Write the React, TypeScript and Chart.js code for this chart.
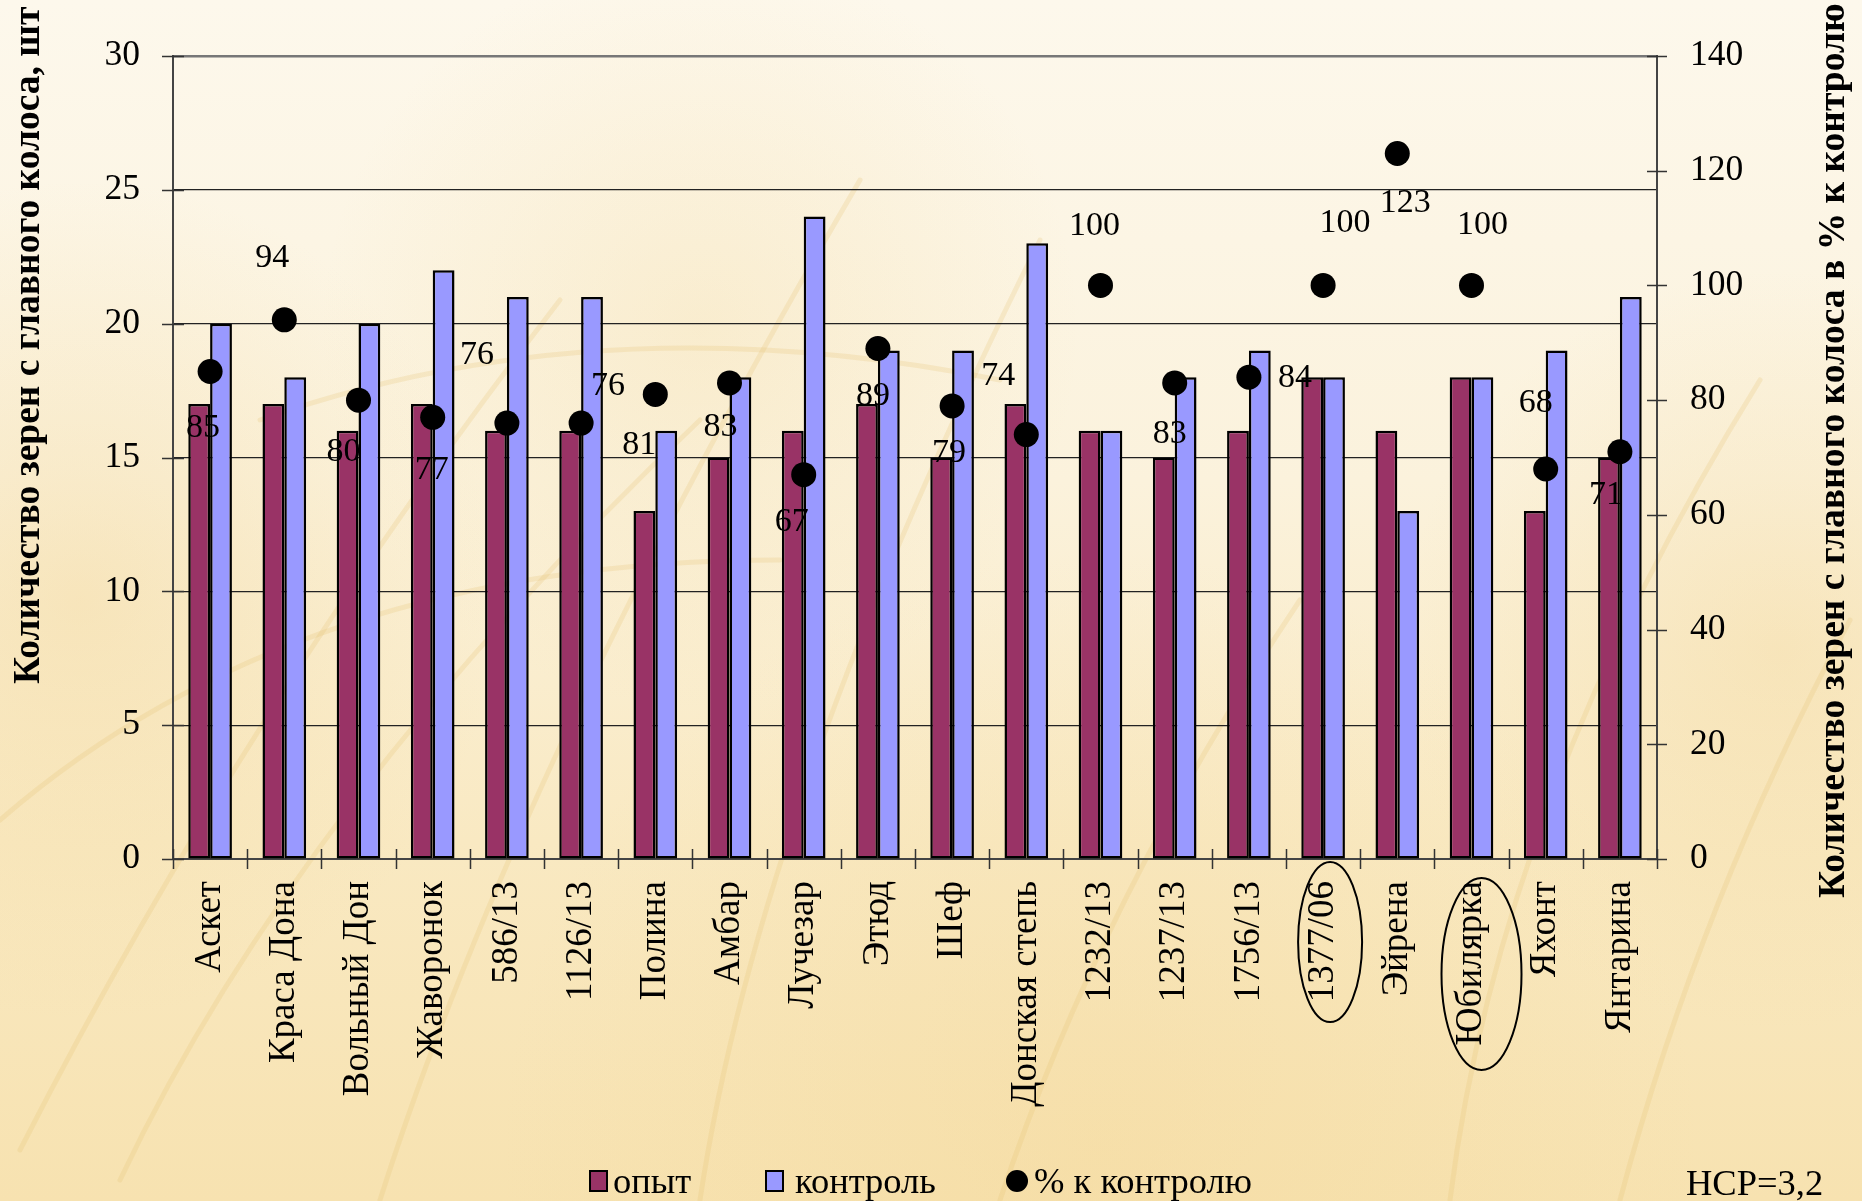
import React, { useEffect, useRef } from "react";
import { Chart, registerables } from "chart.js";

Chart.register(...registerables);

// ---- data ----
const categories = [
  "Аскет", "Краса Дона", "Вольный Дон", "Жаворонок", "586/13", "1126/13",
  "Полина", "Амбар", "Лучезар", "Этюд", "Шеф", "Донская степь", "1232/13",
  "1237/13", "1756/13", "1377/06", "Эйрена", "Юбилярка", "Яхонт", "Янтарина",
];
const experiment = [17, 17, 16, 17, 16, 16, 13, 15, 16, 17, 15, 17, 16, 15, 16, 18, 16, 18, 13, 15];
const control = [20, 18, 20, 22, 21, 21, 16, 18, 24, 19, 19, 23, 16, 18, 19, 18, 13, 18, 19, 21];
const percentOfControl = [85, 94, 80, 77, 76, 76, 81, 83, 67, 89, 79, 74, 100, 83, 84, 100, 123, 100, 68, 71];
const seriesNames = ["опыт", "контроль", "% к контролю"];
const circledCategories = ["1377/06", "Юбилярка"];
const leftAxisTitle = "Количество зерен с главного колоса, шт";
const rightAxisTitle = "Количество зерен с главного колоса в % к контролю";
const lsdNote = "НСР=3,2";

// ---- styling ----
const SERIF = "'Liberation Serif', 'Times New Roman', serif";
const TICK_SIZE = 35.5;
const LEGEND_SIZE = 36.5;
const W = 1862;
const H = 1201;
const PLOT = { left: 173, right: 1657, top: 56, bottom: 859 };

// where each percentage label sits relative to its dot (px)
const pctLabelOffsets: [number, number][] = [
  [-7, 57], [-12, -62], [-15, 52], [-1, 53], [-30, -68], [27, -37], [-16, 51],
  [-9, 44], [-12, 47], [-5, 48], [-3, 47], [-28, -58], [-6, -59], [-5, 51],
  [46, 1], [22, -62], [8, 50], [11, -60], [-10, -66], [-14, 43],
];

// ellipses drawn around selected category labels: dx from tick, cy below axis, radii
const ellipseStyles = [
  { dx: 7, dy: 83, rx: 32, ry: 80 },
  { dx: 10, dy: 115, rx: 40, ry: 96 },
];

// faint wheat stalks in the backdrop: [x0, y0, cx, cy, x1, y1]
const stalks: number[][] = [
  [20, 1150, 250, 700, 560, 300],
  [120, 1180, 300, 800, 700, 420],
  [380, 1200, 520, 760, 860, 180],
  [700, 1200, 760, 800, 1040, 240],
  [1450, 1200, 1500, 800, 1760, 380],
  [1620, 1200, 1700, 900, 1850, 620],
  [0, 820, 300, 560, 780, 560],
  [260, 420, 600, 300, 1000, 380],
  [1000, 1200, 1100, 900, 1300, 600],
];

const backgroundPlugin = {
  id: "wheatBackground",
  beforeDraw(chart: any) {
    const { ctx } = chart;
    ctx.save();
    const g = ctx.createLinearGradient(0, 0, 0, H);
    g.addColorStop(0, "#fdf8ec");
    g.addColorStop(0.4, "#fbf2dc");
    g.addColorStop(0.7, "#f9e9c2");
    g.addColorStop(1, "#f7e2b0");
    ctx.fillStyle = g;
    ctx.fillRect(0, 0, W, H);
    const blobs = [
      { x: 80, y: 600, r: 420, c: "rgba(240,205,130,0.30)" },
      { x: 700, y: 330, r: 380, c: "rgba(240,210,140,0.22)" },
      { x: 1780, y: 650, r: 380, c: "rgba(240,205,130,0.28)" },
      { x: 1100, y: 1150, r: 600, c: "rgba(242,210,140,0.25)" },
    ];
    for (const b of blobs) {
      const rg = ctx.createRadialGradient(b.x, b.y, 0, b.x, b.y, b.r);
      rg.addColorStop(0, b.c);
      rg.addColorStop(1, "rgba(240,210,140,0)");
      ctx.fillStyle = rg;
      ctx.fillRect(0, 0, W, H);
    }
    ctx.strokeStyle = "rgba(228,190,110,0.22)";
    ctx.lineWidth = 5;
    ctx.lineCap = "round";
    for (const s of stalks) {
      ctx.beginPath();
      ctx.moveTo(s[0], s[1]);
      ctx.quadraticCurveTo(s[2], s[3], s[4], s[5]);
      ctx.stroke();
    }
    ctx.restore();
  },
};

const decorPlugin = {
  id: "chartDecor",
  afterDraw(chart: any) {
    const { ctx, scales } = chart;
    const x = scales.x;
    const y = scales.y;
    const y1 = scales.y1;
    const area = chart.chartArea;
    ctx.save();

    // tick marks crossing the axes
    ctx.strokeStyle = "#333";
    ctx.lineWidth = 1.5;
    ctx.beginPath();
    y.ticks.forEach((t: any) => {
      const py = Math.round(y.getPixelForValue(t.value)) + 0.5;
      ctx.moveTo(area.left - 11, py);
      ctx.lineTo(area.left + 11, py);
    });
    y1.ticks.forEach((t: any) => {
      const py = Math.round(y1.getPixelForValue(t.value)) + 0.5;
      ctx.moveTo(area.right - 10, py);
      ctx.lineTo(area.right + 10, py);
    });
    const step = x.getPixelForValue(1) - x.getPixelForValue(0);
    for (let i = 0; i <= categories.length; i++) {
      const px = Math.round(x.getPixelForValue(0) - step / 2 + i * step) + 0.5;
      ctx.moveTo(px, area.bottom - 10);
      ctx.lineTo(px, area.bottom + 10);
    }
    ctx.stroke();

    // percentage labels
    const meta = chart.getDatasetMeta(2);
    ctx.fillStyle = "#000";
    ctx.font = `34px ${SERIF}`;
    ctx.textAlign = "center";
    ctx.textBaseline = "middle";
    meta.data.forEach((pt: any, i: number) => {
      const [dx, dy] = pctLabelOffsets[i];
      ctx.fillText(String(percentOfControl[i]), pt.x + dx, pt.y + dy);
    });

    // ellipses around highlighted varieties
    ctx.strokeStyle = "#000";
    ctx.lineWidth = 2;
    circledCategories.forEach((name, k) => {
      const idx = categories.indexOf(name);
      const s = ellipseStyles[k];
      const cx = x.getPixelForValue(idx) + s.dx;
      ctx.beginPath();
      ctx.ellipse(cx, area.bottom + s.dy, s.rx, s.ry, 0, 0, Math.PI * 2);
      ctx.stroke();
    });

    // axis titles
    ctx.font = `bold 37.5px ${SERIF}`;
    ctx.textAlign = "left";
    ctx.textBaseline = "middle";
    ctx.save();
    ctx.translate(29, 684);
    ctx.rotate(-Math.PI / 2);
    ctx.fillText(leftAxisTitle, 0, 0);
    ctx.restore();
    ctx.save();
    ctx.translate(1834, 898);
    ctx.rotate(-Math.PI / 2);
    ctx.fillText(rightAxisTitle, 0, 0);
    ctx.restore();

    // legend
    const legendY = 1181;
    const keyX = [590, 766, 1017];
    const textX = [613, 795, 1034];
    ctx.font = `${LEGEND_SIZE}px ${SERIF}`;
    ctx.textBaseline = "alphabetic";
    chart.data.datasets.forEach((ds: any, i: number) => {
      if (ds.type === "line") {
        ctx.fillStyle = "#000";
        ctx.beginPath();
        ctx.arc(keyX[i], legendY, 11, 0, Math.PI * 2);
        ctx.fill();
      } else {
        ctx.fillStyle = ds.backgroundColor;
        ctx.fillRect(keyX[i], legendY - 10, 17, 20);
        ctx.strokeStyle = "#000";
        ctx.lineWidth = 2;
        ctx.strokeRect(keyX[i], legendY - 10, 17, 20);
      }
      ctx.fillStyle = "#000";
      ctx.fillText(ds.label, textX[i], 1193);
    });
    ctx.fillText(lsdNote, 1686, 1195);

    ctx.restore();
  },
};

export default function App() {
  const canvasRef = useRef<HTMLCanvasElement | null>(null);

  useEffect(() => {
    const canvas = canvasRef.current;
    if (!canvas) return;
    const chart = new Chart(canvas, {
      type: "bar",
      data: {
        labels: categories,
        datasets: [
          {
            type: "bar",
            label: seriesNames[0],
            data: experiment,
            backgroundColor: "#993366",
            borderColor: "#000",
            borderWidth: 2.5,
            borderSkipped: false,
            yAxisID: "y",
            order: 2,
          },
          {
            type: "bar",
            label: seriesNames[1],
            data: control,
            backgroundColor: "#9999ff",
            borderColor: "#000",
            borderWidth: 2.5,
            borderSkipped: false,
            yAxisID: "y",
            order: 2,
          },
          {
            type: "line",
            label: seriesNames[2],
            data: percentOfControl,
            showLine: false,
            pointRadius: 12.5,
            pointHoverRadius: 12.5,
            pointBackgroundColor: "#000",
            pointBorderColor: "#000",
            pointBorderWidth: 0,
            yAxisID: "y1",
            order: 1,
          },
        ] as any,
      },
      options: {
        responsive: false,
        animation: false,
        devicePixelRatio: 1,
        datasets: {
          bar: { categoryPercentage: 1 / 1.7, barPercentage: 1 },
        },
        layout: { padding: { top: PLOT.top, left: 0, right: 0, bottom: 0 } },
        plugins: {
          legend: { display: false },
          tooltip: { enabled: false },
          title: { display: false },
        },
        scales: {
          x: {
            offset: true,
            grid: { display: false, drawTicks: false },
            border: { display: true, color: "#444", width: 2 },
            ticks: {
              autoSkip: false,
              minRotation: 90,
              maxRotation: 90,
              padding: 22,
              color: "#000",
              font: { family: SERIF, size: 37 },
            },
            afterFit(scale: any) {
              scale.height = H - PLOT.bottom;
            },
          },
          y: {
            position: "left",
            min: 0,
            max: 30,
            ticks: {
              stepSize: 5,
              padding: 33,
              color: "#000",
              font: { family: SERIF, size: TICK_SIZE },
            },
            grid: {
              drawTicks: false,
              color: (c: any) => (c.tick && c.tick.value === 30 ? "#777" : "#222"),
              lineWidth: (c: any) => (c.tick && c.tick.value === 30 ? 2.5 : 1.2),
            },
            border: { display: true, color: "#444", width: 2 },
            afterFit(scale: any) {
              scale.width = PLOT.left;
            },
          },
          y1: {
            position: "right",
            min: 0,
            max: 140,
            ticks: {
              stepSize: 20,
              padding: 33,
              color: "#000",
              font: { family: SERIF, size: TICK_SIZE },
            },
            grid: { drawOnChartArea: false, drawTicks: false },
            border: { display: true, color: "#444", width: 2 },
            afterFit(scale: any) {
              scale.width = W - PLOT.right;
            },
          },
        },
      },
      plugins: [backgroundPlugin, decorPlugin],
    });
    return () => chart.destroy();
  }, []);

  return (
    <div style={{ position: "absolute", left: 0, top: 0, width: W, height: H, overflow: "hidden" }}>
      <canvas ref={canvasRef} width={W} height={H} style={{ display: "block" }} />
    </div>
  );
}
